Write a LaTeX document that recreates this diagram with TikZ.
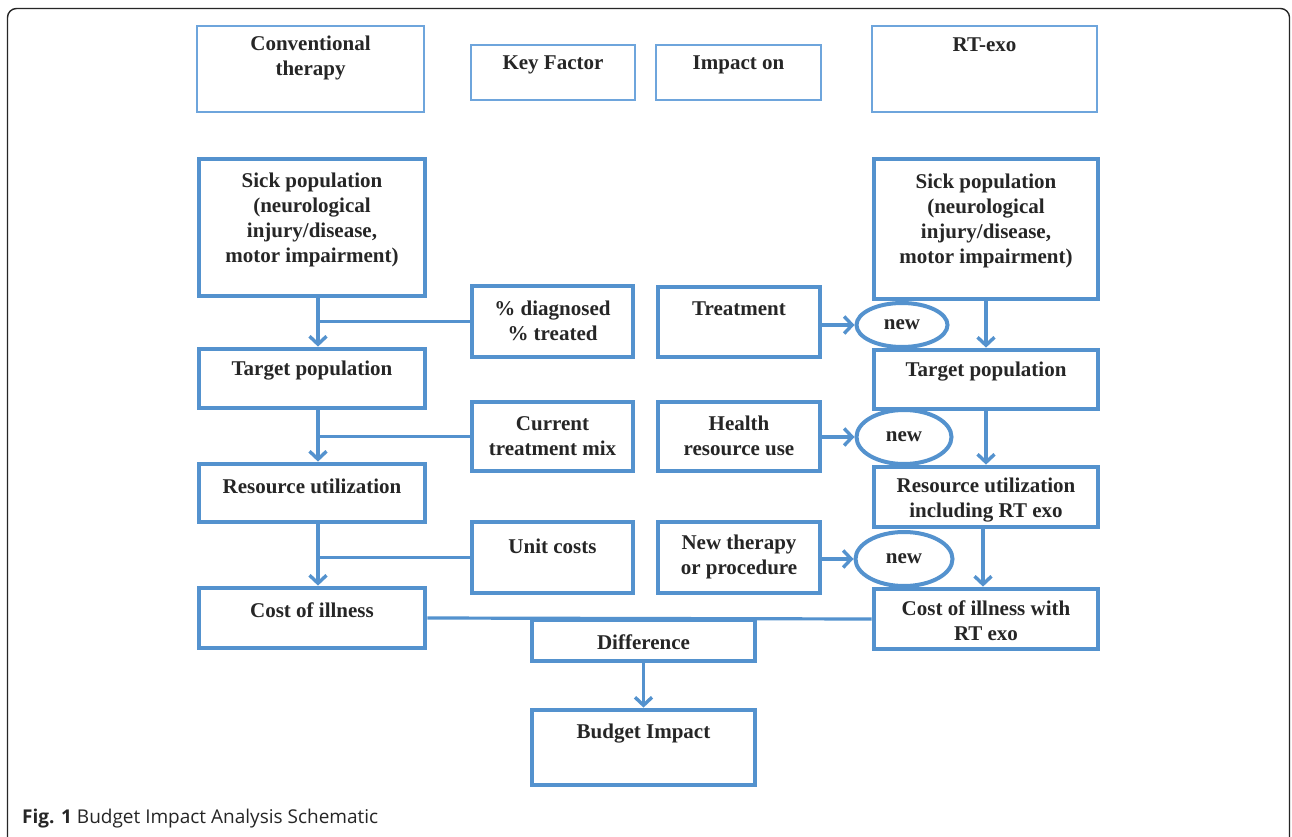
\documentclass[tikz,border=0pt]{standalone}
\usepackage{fontspec}
\setmainfont{Liberation Serif}
\newfontfamily\capfont{Open Sans}
\usetikzlibrary{arrows.meta,fit,shapes.geometric}
\definecolor{bblue}{RGB}{84,146,206}
\definecolor{lblue}{RGB}{110,165,220}
\tikzset{
  thick box/.style={draw=bblue, line width=4.8pt, inner sep=0pt},
  thin box/.style={draw=lblue, line width=1.6pt, inner sep=0pt},
  txt/.style={align=center, font=\fontsize{21}{25}\selectfont\bfseries, inner sep=0pt, text=black!85},
  ln/.style={draw=bblue, line width=3.2pt},
  arr/.style={ln, -{Straight Barb[length=8pt,width=17pt,line width=3.4pt]}},
  newell/.style={ellipse, draw=bblue, fill=white, line width=4pt, inner sep=0pt,
                 font=\fontsize{21}{25}\selectfont\bfseries, text=black!85}
}
\newcommand\bx[8]{%
  \node[#1, fit={(#3,-#4)(#5,-#6)}] (#2) {};
  \node[txt] (#2t) at ({(#3+#5)/2},-#7) {#8};
}
\begin{document}
\begin{tikzpicture}[x=1pt,y=1pt]
\useasboundingbox (0,0) rectangle (1292,-837);
\fill[white] (0,0) rectangle (1292,-837);
\draw[rounded corners=9pt, line width=1.4pt, black!85] (7.5,-8.5) rectangle (1289.5,-860);

% header boxes
\bx{thin box}{hconv}{197}{26}{424}{112}{58}{Conventional\\therapy}
\bx{thin box}{hkey}{471}{45}{635}{100}{65}{Key Factor}
\bx{thin box}{himp}{656}{45}{821}{100}{65}{Impact on}
\bx{thin box}{hrt}{872}{26}{1097}{112}{45}{RT-exo}

% left column
\bx{thick box}{sickL}{199}{159}{425}{296}{220}{Sick population\\(neurological\\injury/disease,\\motor impairment)}
\bx{thick box}{targL}{199}{349}{425}{408}{371}{Target population}
\bx{thick box}{resL}{199}{464}{425}{522}{486}{Resource utilization}
\bx{thick box}{costL}{199}{588}{425}{648}{610}{Cost of illness}

% key factor column
\bx{thick box}{diag}{472}{286}{633}{357}{321}{\% diagnosed\\\% treated}
\bx{thick box}{mix}{472}{402}{633}{471}{436}{Current\\treatment mix}
\bx{thick box}{unit}{472}{522}{633}{593}{546}{Unit costs}

% impact column
\bx{thick box}{treat}{658}{287}{820}{357}{309}{Treatment}
\bx{thick box}{health}{658}{402}{820}{471}{436}{Health\\resource use}
\bx{thick box}{newth}{658}{522}{820}{593}{557}{New therapy\\or procedure}

% right column
\bx{thick box}{sickR}{874}{159}{1098}{299}{221}{Sick population\\(neurological\\injury/disease,\\motor impairment)}
\bx{thick box}{targR}{874}{350}{1098}{409}{372}{Target population}
\bx{thick box}{resR}{874}{467}{1098}{527}{500}{Resource utilization\\including RT exo}
\bx{thick box}{costR}{874}{589}{1098}{649}{621}{Cost of illness with\\RT exo}

% bottom
\bx{thick box}{diff}{532}{620}{755}{661}{642}{Difference}
\bx{thick box}{budget}{532}{710}{755}{785}{734}{Budget Impact}

% left connectors
\draw[arr] ([xshift=6pt]sickL.south) -- ([xshift=6pt]targL.north);
\draw[ln] (diag.west) -- ([xshift=6pt]sickL.south |- diag.west);
\draw[arr] ([xshift=6pt]targL.south) -- ([xshift=6pt]resL.north);
\draw[ln] (mix.west) -- ([xshift=6pt]targL.south |- mix.west);
\draw[arr] ([xshift=6pt]resL.south) -- ([xshift=6pt]costL.north);
\draw[ln] (unit.west) -- ([xshift=6pt]resL.south |- unit.west);

% right connectors
\draw[arr] (sickR.south) -- (targR.north);
\draw[arr] (targR.south) -- (resR.north);
\draw[arr] ([xshift=-3pt]resR.south) -- ([xshift=-3pt]costR.north);

% bottom connectors
\draw[ln] (costL.east) -- (costR.west);
\draw[arr] (diff.south) -- (budget.north);

% new ellipses
\node[newell, minimum width=91pt, minimum height=44pt] (new1) at (902,-325) {new};
\node[newell, minimum width=95pt, minimum height=54pt] (new2) at (904,-437) {new};
\node[newell, minimum width=97pt, minimum height=54pt] (new3) at (904,-559) {new};
\draw[arr] (treat.east |- new1.west) -- (new1.west);
\draw[arr] (health.east |- new2.west) -- (new2.west);
\draw[arr] (newth.east |- new3.west) -- (new3.west);

% caption
\node[anchor=base west, inner sep=0pt, font=\capfont\fontsize{19}{22}\selectfont, text=black!85] (cap) at (22,-823) {\textbf{Fig. 1} Budget Impact Analysis Schematic};
\end{tikzpicture}
\end{document}
